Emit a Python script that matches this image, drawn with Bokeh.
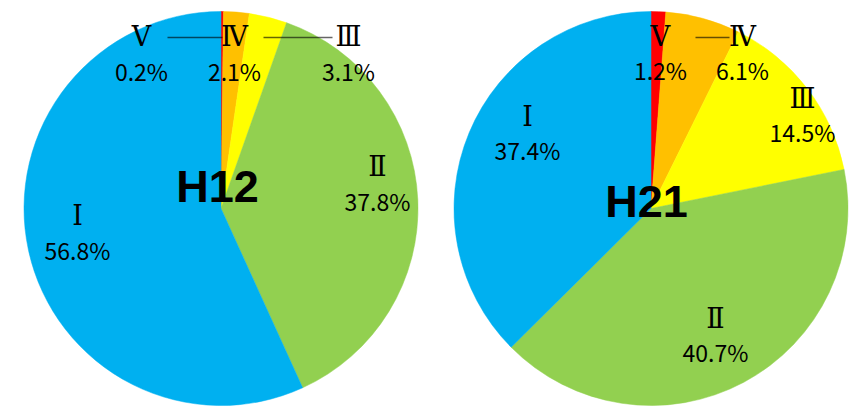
import math
from bokeh.plotting import figure
from bokeh.models import Range1d, ColumnDataSource
from bokeh.core.properties import value
from bokeh.embed import file_html
from bokeh.resources import INLINE

# ---- data ----
categories = ["Ⅴ", "Ⅳ", "Ⅲ", "Ⅱ", "Ⅰ"]
h12_values = [0.2, 2.1, 3.1, 37.8, 56.8]
h21_values = [1.2, 6.1, 14.5, 40.7, 37.4]
pie_titles = ["H12", "H21"]
colors = ["#FF0000", "#FFC000", "#FFFF00", "#92D050", "#00B0F0"]

# ---- layout (screen pixel coordinates of the reference) ----
W, H = 852, 406
R = 197
centers = [(220.5, 208), (650.5, 208)]
# label positions per slice: (x, numeral baseline y, percent baseline y)
label_pos = [
    [(141, 45, 82), (234, 45, 82), (348, 45, 82), (377, 175, 212), (77, 224, 261)],
    [(660, 45, 81), (742, 45, 81), (802, 107, 143), (715, 327, 363), (527, 125, 161)],
]
title_pos = [(217, 203), (646, 218)]
leaders = [
    [(167, 222, 37), (263, 332, 37)],
    [(695, 729, 37)],
]
# renderer baseline corrections (px)
NUM_OFF, PCT_OFF, TTL_OFF = 9, 12, 17


def sy(y):
    return H - y


p = figure(width=W, height=H, output_backend="svg", toolbar_location=None,
           x_range=Range1d(0, W), y_range=Range1d(0, H),
           min_border=0, outline_line_color=None)
p.axis.visible = False
p.grid.visible = False
p.background_fill_color = "white"
p.border_fill_color = "white"

for idx, vals in enumerate([h12_values, h21_values]):
    cx, cy = centers[idx]
    total = sum(vals)
    starts, ends = [], []
    acc = 0.0
    for v in vals:
        starts.append(math.pi / 2 - 2 * math.pi * acc / total)
        acc += v
        ends.append(math.pi / 2 - 2 * math.pi * acc / total)
    src = ColumnDataSource(dict(x=[cx] * len(vals), y=[sy(cy)] * len(vals),
                                start=starts, end=ends, color=colors))
    p.wedge(x="x", y="y", radius=R, start_angle="start", end_angle="end",
            direction="clock", fill_color="color", line_color="color",
            line_width=0.5, source=src)

    for (x0, x1, ly) in leaders[idx]:
        p.line([x0, x1], [sy(ly), sy(ly)], line_color="black", line_alpha=0.6,
               line_width=1.5)

    nx = [lp[0] for lp in label_pos[idx]]
    ny = [sy(lp[1] - NUM_OFF) for lp in label_pos[idx]]
    py = [sy(lp[2] - PCT_OFF) for lp in label_pos[idx]]
    pct = [f"{v:.1f}%" for v in vals]
    p.text(x=nx, y=ny, text=categories, text_align="center",
           text_baseline="alphabetic", text_font=value("DejaVu Serif"),
           text_font_size="27px", text_color="black")
    p.text(x=nx, y=py, text=pct, text_align="center",
           text_baseline="alphabetic",
           text_font=value("Noto Sans CJK JP"),
           text_font_size="23px", text_color="black")
    tx, ty = title_pos[idx]
    p.text(x=[tx], y=[sy(ty - TTL_OFF)], text=[pie_titles[idx]], text_align="center",
           text_baseline="alphabetic", text_font=value("Liberation Sans"),
           text_font_style="bold", text_font_size="45px", text_color="black")

open("out.html", "w").write(file_html(p, INLINE))
